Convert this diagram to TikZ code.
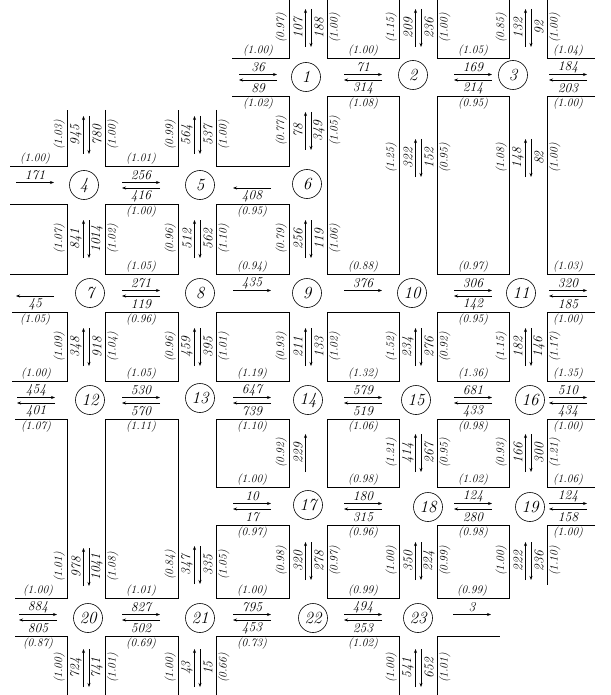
\documentclass[tikz,border=0pt]{standalone}
\usetikzlibrary{arrows.meta}
\newcounter{lb}
\tikzset{
 blk/.style={line width=0.6pt},
 cnt/.style={font=\fontsize{13.5}{14}\selectfont\itshape, inner sep=0.5pt},
 fac/.style={font=\fontsize{11.5}{12}\selectfont\itshape, inner sep=0.8pt},
 arr/.style={line width=0.6pt, -{Stealth[length=4pt,width=3pt]}},
 isec/.style={circle, draw, line width=0.6pt, minimum size=29pt, inner sep=0pt, font=\fontsize{17}{18}\selectfont\itshape},
}
% horizontal link parts: x, road centre y, text
\newcommand{\Eb}[3]{\stepcounter{lb}\node[cnt] (t\arabic{lb}) at (#1,#2-10) {#3};
 \draw[arr] (#1-19,#2-2.5) -- (#1+19,#2-2.5);}
\newcommand{\Wb}[3]{\stepcounter{lb}\draw[arr] (#1+19,#2+3) -- (#1-19,#2+3);
 \node[cnt] (t\arabic{lb}) at (#1,#2+11) {#3};}
\newcommand{\Tf}[3]{\stepcounter{lb}\node[fac,anchor=south] (t\arabic{lb}) at (#1,#2-20) {#3};}
\newcommand{\Bf}[3]{\stepcounter{lb}\node[fac,anchor=north] (t\arabic{lb}) at (#1,#2+20) {#3};}
\newcommand{\HL}[6]{\Tf{#1}{#2}{#3}\Eb{#1}{#2}{#4}\Wb{#1}{#2}{#5}\Bf{#1}{#2}{#6}}
% vertical link parts: road centre x, y, text
\newcommand{\Nb}[3]{\stepcounter{lb}\node[cnt,rotate=90] (t\arabic{lb}) at (#1-10,#2) {#3};
 \draw[arr] (#1-2.5,#2+19) -- (#1-2.5,#2-19);}
\newcommand{\Sb}[3]{\stepcounter{lb}\draw[arr] (#1+3,#2-19) -- (#1+3,#2+19);
 \node[cnt,rotate=90] (t\arabic{lb}) at (#1+11,#2) {#3};}
\newcommand{\Lf}[3]{\stepcounter{lb}\node[fac,rotate=90,anchor=south] (t\arabic{lb}) at (#1-20,#2) {#3};}
\newcommand{\Rf}[3]{\stepcounter{lb}\node[fac,rotate=90,anchor=north] (t\arabic{lb}) at (#1+20,#2) {#3};}
\newcommand{\VL}[6]{\Lf{#1}{#2}{#3}\Nb{#1}{#2}{#4}\Sb{#1}{#2}{#5}\Rf{#1}{#2}{#6}}
\begin{document}
\begin{tikzpicture}[x=1pt,y=-1pt]
\useasboundingbox[fill=white] (0,0) rectangle (610,695);
% ---- blocks ----
\draw[blk] (232,58) -- (289,58) -- (289,0);
\draw[blk] (327,0) -- (327,58) -- (399,58) -- (399,0);
\draw[blk] (437,0) -- (437,58) -- (509,58) -- (509,0);
\draw[blk] (547,0) -- (547,58) -- (595,58);
\draw[blk] (216,110) -- (216,166) -- (289,166) -- (289,96) -- (232,96);
\draw[blk] (327,96) rectangle (399,274);
\draw[blk] (437,96) rectangle (509,274);
\draw[blk] (595,96) -- (547,96) -- (547,274) -- (595,274);
\draw[blk] (10,166) -- (67,166) -- (67,110);
\draw[blk] (105,110) -- (105,166) -- (178,166) -- (178,110);
\draw[blk] (10,204) -- (67,204) -- (67,274) -- (10,274);
\draw[blk] (105,204) rectangle (178,274);
\draw[blk] (216,204) rectangle (289,274);
\draw[blk] (12,312) -- (67,312) -- (67,381) -- (12,381);
\draw[blk] (105,312) rectangle (178,381);
\draw[blk] (216,312) rectangle (289,381);
\draw[blk] (327,312) rectangle (399,381);
\draw[blk] (437,312) rectangle (509,381);
\draw[blk] (595,312) -- (547,312) -- (547,381) -- (595,381);
\draw[blk] (15,419) -- (67,419) -- (67,598) -- (15,598);
\draw[blk] (105,419) rectangle (178,598);
\draw[blk] (216,419) rectangle (289,487);
\draw[blk] (216,525) rectangle (289,598);
\draw[blk] (327,419) rectangle (399,487);
\draw[blk] (327,525) rectangle (399,598);
\draw[blk] (437,419) rectangle (509,487);
\draw[blk] (437,525) rectangle (509,598);
\draw[blk] (595,419) -- (547,419) -- (547,487) -- (595,487);
\draw[blk] (595,525) -- (547,525) -- (547,585);
\draw[blk] (15,636) -- (67,636) -- (67,695);
\draw[blk] (105,695) -- (105,636) -- (178,636) -- (178,695);
\draw[blk] (216,695) -- (216,636) -- (399,636) -- (399,695);
\draw[blk] (437,695) -- (437,636) -- (500,636);
% ---- intersections ----
\node[isec] (n1) at (306,77) {1};
\node[isec] (n2) at (413,75) {2};
\node[isec] (n3) at (513,75) {3};
\node[isec] (n4) at (84,185) {4};
\node[isec] (n5) at (200,185) {5};
\node[isec] (n6) at (307,184) {6};
\node[isec] (n7) at (90,293) {7};
\node[isec] (n8) at (200,293) {8};
\node[isec] (n9) at (307,293) {9};
\node[isec] (n10) at (412,293) {10};
\node[isec] (n11) at (521,293) {11};
\node[isec] (n12) at (90,400) {12};
\node[isec] (n13) at (200,398) {13};
\node[isec] (n14) at (308,400) {14};
\node[isec] (n15) at (416,400) {15};
\node[isec] (n16) at (530,400) {16};
\node[isec] (n17) at (308,505) {17};
\node[isec] (n18) at (428,507) {18};
\node[isec] (n19) at (530,507) {19};
\node[isec] (n20) at (88,618) {20};
\node[isec] (n21) at (200,618) {21};
\node[isec] (n22) at (313,618) {22};
\node[isec] (n23) at (418,618) {23};
% ---- horizontal links ----
\HL{258}{77}{(1.00)}{36}{89}{(1.02)}
\HL{363}{77}{(1.00)}{71}{314}{(1.08)}
\HL{473}{77}{(1.05)}{169}{214}{(0.95)}
\HL{568}{77}{(1.04)}{184}{203}{(1.00)}
\Tf{35}{185}{(1.00)}\Eb{35}{185}{171}
\HL{141}{185}{(1.01)}{256}{416}{(1.00)}
\Wb{252}{185}{408}\Bf{252}{185}{(0.95)}
\Wb{35}{293}{45}\Bf{35}{293}{(1.05)}
\HL{141}{293}{(1.05)}{271}{119}{(0.96)}
\Tf{252}{293}{(0.94)}\Eb{252}{293}{435}
\Tf{363}{293}{(0.88)}\Eb{363}{293}{376}
\HL{473}{293}{(0.97)}{306}{142}{(0.95)}
\HL{568}{293}{(1.03)}{320}{185}{(1.00)}
\HL{36}{400}{(1.00)}{454}{401}{(1.07)}
\HL{141}{400}{(1.05)}{530}{570}{(1.11)}
\HL{252}{400}{(1.19)}{647}{739}{(1.10)}
\HL{363}{400}{(1.32)}{579}{519}{(1.06)}
\HL{473}{400}{(1.36)}{681}{433}{(0.98)}
\HL{568}{400}{(1.35)}{510}{434}{(1.00)}
\HL{252}{506}{(1.00)}{10}{17}{(0.97)}
\HL{363}{506}{(0.98)}{180}{315}{(0.96)}
\HL{473}{506}{(1.02)}{124}{280}{(0.98)}
\HL{568}{506}{(1.06)}{124}{158}{(1.00)}
\HL{38}{617}{(1.00)}{884}{805}{(0.87)}
\HL{141}{617}{(1.01)}{827}{502}{(0.69)}
\HL{252}{617}{(1.00)}{795}{453}{(0.73)}
\HL{363}{617}{(0.99)}{494}{253}{(1.02)}
\Tf{472}{617}{(0.99)}\Eb{472}{617}{3}
% ---- vertical links ----
\VL{86}{135}{(1.03)}{945}{780}{(1.00)}
\VL{86}{239}{(1.07)}{841}{1014}{(1.02)}
\VL{86}{347}{(1.09)}{348}{918}{(1.04)}
\VL{86}{567}{(1.01)}{978}{1041}{(1.08)}
\VL{86}{668}{(1.00)}{724}{741}{(1.01)}
\VL{197}{135}{(0.99)}{564}{537}{(1.00)}
\VL{197}{239}{(0.96)}{512}{562}{(1.10)}
\VL{197}{347}{(0.96)}{459}{395}{(1.01)}
\VL{197}{565}{(0.84)}{347}{335}{(1.05)}
\VL{197}{668}{(1.00)}{43}{15}{(0.66)}
\VL{308}{28}{(0.97)}{107}{188}{(1.00)}
\VL{308}{131}{(0.77)}{78}{349}{(1.05)}
\VL{308}{239}{(0.79)}{256}{119}{(1.06)}
\VL{308}{347}{(0.93)}{211}{133}{(1.02)}
\Lf{308}{453}{(0.92)}\Nb{308}{453}{229}
\VL{308}{561}{(0.98)}{320}{278}{(0.97)}
\VL{418}{28}{(1.15)}{209}{236}{(1.00)}
\VL{418}{158}{(1.25)}{322}{152}{(0.95)}
\VL{418}{347}{(1.52)}{234}{276}{(0.92)}
\VL{418}{453}{(1.21)}{414}{267}{(0.95)}
\VL{418}{561}{(1.00)}{350}{224}{(0.99)}
\VL{418}{668}{(1.00)}{541}{652}{(1.01)}
\VL{528}{28}{(0.85)}{132}{92}{(1.00)}
\VL{528}{158}{(1.08)}{148}{82}{(1.00)}
\VL{528}{347}{(1.15)}{182}{146}{(1.17)}
\VL{528}{453}{(0.93)}{166}{300}{(1.21)}
\VL{528}{561}{(1.00)}{222}{236}{(1.10)}
\end{tikzpicture}
\end{document}
